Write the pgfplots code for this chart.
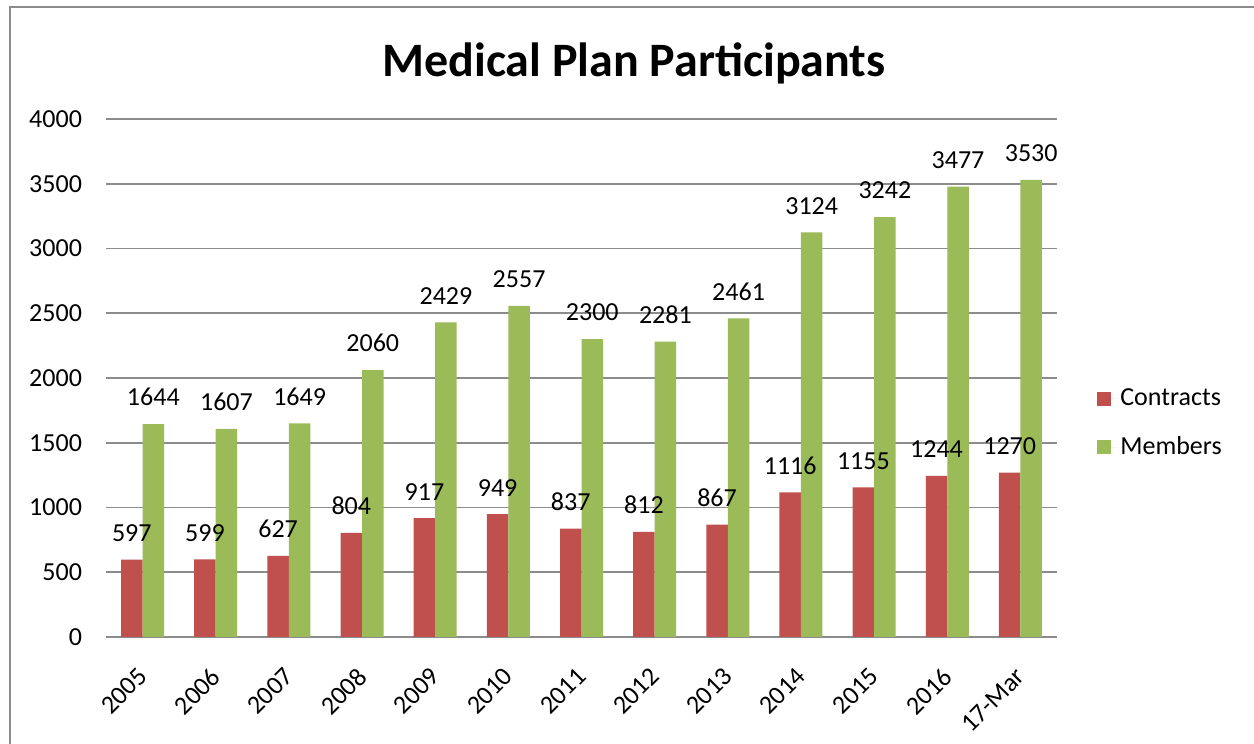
\documentclass[border=0pt]{standalone}
\usepackage{pgfplots}
\pgfplotsset{compat=1.18}
\usepackage{fontspec}
\setmainfont{Carlito}
\definecolor{cred}{RGB}{192,80,77}
\definecolor{cgreen}{RGB}{155,187,89}
\definecolor{cgrid}{RGB}{140,140,140}
\begin{document}
\begin{tikzpicture}
\useasboundingbox (0,0) rectangle (627pt,372pt);
\fill[white] (0,0) rectangle (627pt,372pt);
\draw[cgrid, line width=1pt] (5pt,0) -- (5pt,368.5pt) -- (627pt,368.5pt);
\node[font=\fontsize{24}{28}\selectfont\bfseries, anchor=base] at (317pt,333.5pt) {Medical Plan Participants};
\begin{axis}[
  at={(53pt,53.5pt)}, anchor=south west,
  scale only axis, width=475.5pt, height=259pt,
  ybar=0pt, bar width=10.75pt,
  xmin=-0.5, xmax=12.5, ymin=0, ymax=4000,
  ytick={0,500,...,4000},
  xtick={0,...,12},
  xticklabels={2005,2006,2007,2008,2009,2010,2011,2012,2013,2014,2015,2016,17-Mar},
  major tick length=0pt,
  axis x line*=bottom, axis y line*=left,
  x axis line style={cgrid, line width=1pt, -},
  y axis line style={draw=none, -},
  ymajorgrids, grid style={cgrid, line width=0.9pt},
  /pgf/number format/assume math mode=true,
  /pgf/number format/1000 sep={},
  ticklabel style={font=\fontsize{13}{15}\selectfont},
  yticklabel style={xshift=-8.5pt},
  xticklabel style={xshift=-3pt, yshift=-13pt, rotate=45, anchor=north east, inner sep=1pt},
  nodes near coords,
  nodes near coords style={font=\fontsize{13}{15}\selectfont, /pgf/number format/fixed, /pgf/number format/precision=0, /pgf/number format/1000 sep={}, yshift=5.5pt},
  legend style={at={(1.042,0.413)}, anchor=west, draw=none, fill=none, font=\fontsize{13}{15}\selectfont, row sep=10pt, inner xsep=0pt},
  legend cell align=left,
  legend image code/.code={\fill[#1] (0pt,-3.5pt) rectangle (7pt,3.5pt); \path (0pt,0pt) -- (9.5pt,0pt);},
]
\addplot[fill=cred, draw=none] coordinates {(0,597) (1,599) (2,627) (3,804) (4,917) (5,949) (6,837) (7,812) (8,867) (9,1116) (10,1155) (11,1244) (12,1270)};
\addplot[fill=cgreen, draw=none] coordinates {(0,1644) (1,1607) (2,1649) (3,2060) (4,2429) (5,2557) (6,2300) (7,2281) (8,2461) (9,3124) (10,3242) (11,3477) (12,3530)};
\legend{Contracts, Members}
\end{axis}
\end{tikzpicture}
\end{document}
